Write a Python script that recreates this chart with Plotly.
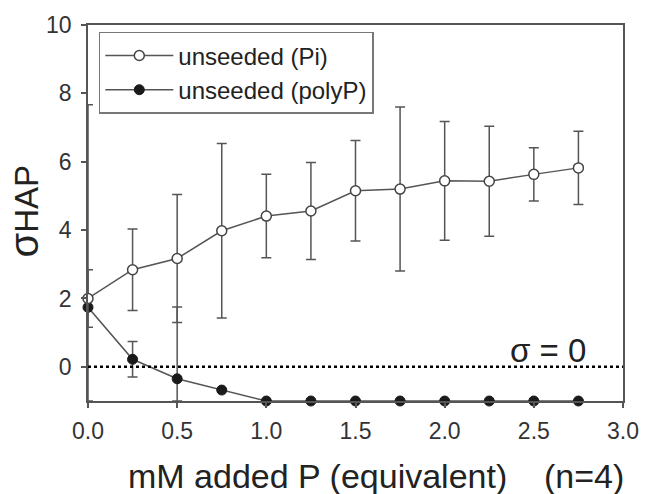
import plotly.graph_objects as go

# ---- data ----
x_vals = [0.0, 0.25, 0.5, 0.75, 1.0, 1.25, 1.5, 1.75, 2.0, 2.25, 2.5, 2.75]
pi_mean = [2.0, 2.84, 3.17, 3.98, 4.41, 4.56, 5.15, 5.2, 5.44, 5.43, 5.63, 5.82]
pi_sd = [0.84, 1.19, 1.87, 2.55, 1.22, 1.42, 1.47, 2.4, 1.74, 1.61, 0.78, 1.07]
polyp_mean = [1.74, 0.22, -0.35, -0.68, -1.0, -1.0, -1.0, -1.0, -1.0, -1.0, -1.0, -1.0]
polyp_sd = [5.93, 0.52, 2.1, 0.0, 0.0, 0.0, 0.0, 0.0, 0.0, 0.0, 0.0, 0.0]
x_ticks = [0.0, 0.5, 1.0, 1.5, 2.0, 2.5, 3.0]
y_ticks = [0, 2, 4, 6, 8, 10]
y_min, y_max = -1, 10

FONT = "Liberation Sans, Arial, sans-serif"
LINE = "#555555"
TXT = "#222222"
W, H = 651, 494
ML, MR, MT, MB = 88, 18, 20, 93
PW, PH = W - ML - MR, H - MT - MB

def clipped_minus(means, sds):
    return [min(s, m - y_min) for m, s in zip(means, sds)]

fig = go.Figure()

fig.add_trace(go.Scatter(
    x=x_vals, y=polyp_mean, name="unseeded (polyP)",
    mode="lines+markers", cliponaxis=False,
    line=dict(color=LINE, width=1.5),
    marker=dict(symbol="circle", size=10, color="#1a1a1a",
                line=dict(color="#1a1a1a", width=1)),
    error_y=dict(type="data", array=polyp_sd,
                 arrayminus=clipped_minus(polyp_mean, polyp_sd),
                 color=LINE, thickness=1.5, width=5),
))
fig.add_trace(go.Scatter(
    x=x_vals, y=pi_mean, name="unseeded (Pi)",
    mode="lines+markers", cliponaxis=False,
    line=dict(color=LINE, width=1.5),
    marker=dict(symbol="circle", size=10, color="white",
                line=dict(color="#444444", width=1.5)),
    error_y=dict(type="data", array=pi_sd,
                 arrayminus=clipped_minus(pi_mean, pi_sd),
                 color=LINE, thickness=1.5, width=5),
))

fig.add_shape(type="line", xref="x", yref="y", x0=0, x1=3, y0=0, y1=0,
              line=dict(color="black", width=2.5, dash="dot"), layer="above")

fig.update_layout(
    width=W, height=H,
    margin=dict(l=ML, r=MR, t=MT, b=MB),
    plot_bgcolor="white", paper_bgcolor="white",
    font=dict(family=FONT, color=TXT),
    showlegend=True,
    legend=dict(
        x=(99 - ML) / PW, y=1 - (27 - MT) / PH, xanchor="left", yanchor="top",
        traceorder="reversed",
        bordercolor="#777777", borderwidth=1.5, bgcolor="white",
        font=dict(size=24, family=FONT, color=TXT),
        itemwidth=68, tracegroupgap=0,
    ),
    xaxis=dict(
        range=[0, 3], tickvals=x_ticks, ticktext=[f"{v:.1f}" for v in x_ticks],
        showgrid=False, zeroline=False,
        showline=True, linecolor=LINE, linewidth=1.5, mirror=True,
        ticks="outside", ticklen=5, tickcolor=LINE, tickwidth=1.5,
        tickfont=dict(size=23, color="#333333"),
        ticklabelstandoff=4,
    ),
    yaxis=dict(
        range=[y_min, y_max], tickvals=y_ticks,
        showgrid=False, zeroline=False,
        showline=True, linecolor=LINE, linewidth=1.5, mirror=True,
        ticks="outside", ticklen=5, tickcolor=LINE, tickwidth=1.5,
        tickfont=dict(size=23, color="#333333"),
        ticklabelstandoff=5,
    ),
    annotations=[
        dict(text="σ = 0", x=2.58, y=0, xref="x", yref="y",
             xanchor="center", yanchor="bottom", yshift=-4,
             showarrow=False, font=dict(size=33, color=TXT)),
        dict(text="mM added P (equivalent)", x=(127 - ML) / PW,
             y=-(477 - MT - PH) / PH,
             xref="paper", yref="paper", showarrow=False,
             xanchor="left", yanchor="middle",
             font=dict(size=34, color=TXT)),
        dict(text="(n=4)", x=(636 - ML) / PW, y=-(477 - MT - PH) / PH,
             xref="paper", yref="paper",
             showarrow=False, xanchor="right", yanchor="middle",
             font=dict(size=34, color=TXT)),
        dict(text="σ<span style='font-size:33px'>HAP</span>", x=0, y=(H - MB - 209) / PH,
             xref="paper", yref="paper",
             xshift=-64, showarrow=False, textangle=-90,
             xanchor="center", yanchor="middle",
             font=dict(size=40, color=TXT)),
    ],
)

fig.write_html("out.html")
